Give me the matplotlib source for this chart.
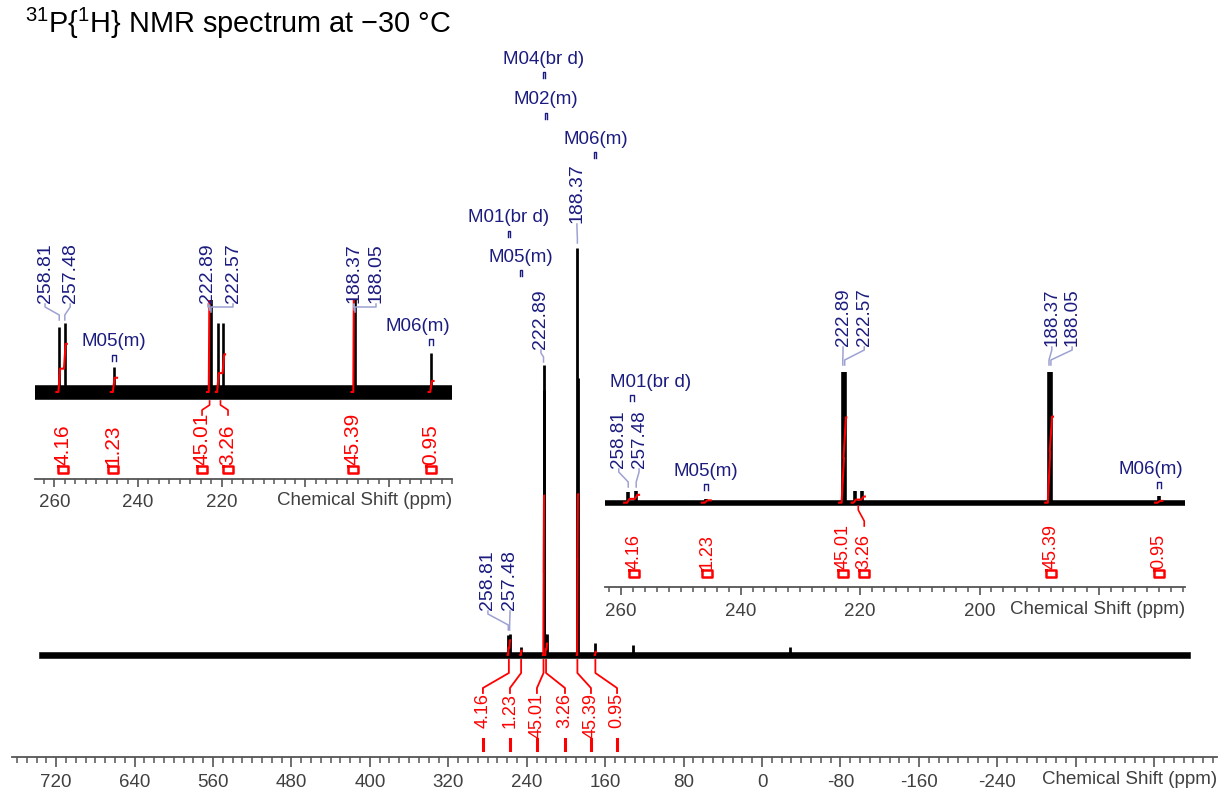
import numpy as np
import matplotlib.pyplot as plt
import matplotlib.transforms as mtransforms
from matplotlib.ticker import MultipleLocator, FuncFormatter

plt.rcParams['font.family'] = ['Liberation Sans', 'DejaVu Sans']
plt.rcParams['mathtext.fontset'] = 'custom'
plt.rcParams['mathtext.rm'] = 'Liberation Sans'
plt.rcParams['mathtext.default'] = 'regular'
plt.rcParams['axes.unicode_minus'] = False

# ---- values (height: 188.37 peak = 100) ----
peak_ppm = [258.81, 257.48, 245.8, 222.89, 222.57, 220.9, 219.6, 188.37, 188.05, 170.0, 131.6, -28.6]
peak_height = [4.9, 5.2, 1.9, 71.3, 65.0, 5.2, 5.2, 100.0, 68.0, 2.9, 2.5, 2.0]
spectrum_start, spectrum_end = 737.8, -436.7

int_from = [259.5, 246.5, 223.5, 221.4, 189.0, 170.6]
int_to = [257.0, 245.0, 222.3, 219.2, 187.7, 169.4]
int_value = [4.16, 1.23, 45.01, 3.26, 45.39, 0.95]
int_scale = 0.87

mult_names = ['M01(br d)', 'M05(m)', 'M04(br d)', 'M02(m)', 'M06(m)']
mult_ppm = [258.15, 245.8, 222.73, 220.25, 170.0]

main_tick_labels = [720, 640, 560, 480, 400, 320, 240, 160, 80, 0, -80, -160, -240]
left_tick_labels = [260, 240, 220]
right_tick_labels = [260, 240, 220, 200]

W, H = 1224, 789
NAVY = '#1c1c80'
LEAD = '#9ea2d2'
RED = '#ff0000'
GREY = '#404040'


def fy(p):
    return 1 - p / H


def rect(x0, x1, ytop, ybot):
    return [x0 / W, 1 - ybot / H, (x1 - x0) / W, (ybot - ytop) / H]


def blend(ax):
    return mtransforms.blended_transform_factory(ax.transData, ax.figure.transFigure)


def ppm_per_px(ax):
    x0, x1 = ax.get_xlim()
    return abs(x0 - x1) / (ax.get_position().width * W)


def setup_axis(ax, major, minor, shown, ticklen, pad):
    for s in ['left', 'right', 'top']:
        ax.spines[s].set_visible(False)
    ax.spines['bottom'].set_color('#555555')
    ax.spines['bottom'].set_linewidth(1.3)
    ax.set_yticks([])
    ax.set_facecolor('none')
    ax.xaxis.set_major_locator(MultipleLocator(major))
    ax.xaxis.set_minor_locator(MultipleLocator(minor))
    ax.xaxis.set_major_formatter(FuncFormatter(
        lambda v, p: f'{v:.0f}' if any(abs(v - s) < 1e-6 for s in shown) else ''))
    ax.tick_params(axis='x', which='major', length=ticklen, width=1.2, color='#555555',
                   labelsize=13.5, labelcolor=GREY, pad=pad)
    ax.tick_params(axis='x', which='minor', length=ticklen * 0.6, width=1.1, color='#555555')


def draw_spectrum(ax, noise_px, peak_lw, px_per_unit):
    half = noise_px / px_per_unit
    ax.fill_between([spectrum_start, spectrum_end], -half, half, color='black', lw=0.4)
    ax.vlines(peak_ppm, 0, peak_height, color='black', lw=peak_lw)


def draw_integrals(ax, lw):
    d = 0.2
    for f, t, v in zip(int_from, int_to, int_value):
        inside = [(p, h) for p, h in zip(peak_ppm, peak_height) if t < p < f]
        inside.sort(reverse=True)
        total = sum(h for _, h in inside)
        cum = np.cumsum([h for _, h in inside]) / total * v * int_scale
        xs, ys, prev = [f], [0], 0
        for (p, _), c in zip(inside, cum):
            xs += [p + d, p - d]
            ys += [prev, c]
            prev = c
        xs.append(t)
        ys.append(prev)
        ax.plot(xs, ys, color=RED, lw=lw)


def peak_label(ax, text, peak, label_ppm, yb, ye, size):
    tr = blend(ax)
    ax.text(label_ppm, fy(yb), text, rotation=90, ha='center', va='bottom', fontsize=size,
            color=NAVY, transform=tr, clip_on=False)
    ax.plot([label_ppm, label_ppm, peak, peak], [fy(yb + 1), fy(yb + 4), fy(ye - 5), fy(ye)],
            color=LEAD, lw=1.1, transform=tr, clip_on=False)


def mult_label(ax, name, text_ppm, yc, size, half_px):
    tr = blend(ax)
    p = mult_ppm[mult_names.index(name)]
    w = half_px * ppm_per_px(ax)
    ax.text(text_ppm, fy(yc), name, ha='center', va='center', fontsize=size, color=NAVY,
            transform=tr, clip_on=False)
    ym = yc + 13
    ax.plot([p + w, p + w, p - w, p - w], [fy(ym + 6), fy(ym), fy(ym), fy(ym + 6)],
            color=NAVY, lw=1.0, transform=tr, clip_on=False)


def inset_integral_labels(ax, label_ppm, y_base, y_text_bottom, text_px, size):
    tr = blend(ax)
    k = ppm_per_px(ax)
    for f, t, v, lp in zip(int_from, int_to, int_value, label_ppm):
        c = (f + t) / 2
        ax.text(lp, fy(y_text_bottom), f'{v:.2f}', rotation=90, ha='center', va='bottom',
                fontsize=size, color=RED, transform=tr, clip_on=False)
        w = 5 * k
        yb = y_text_bottom + 1
        ax.plot([lp + w, lp - w, lp - w, lp + w, lp + w], [fy(yb), fy(yb), fy(yb + 7), fy(yb + 7), fy(yb)],
                color=RED, lw=1.8, transform=tr, clip_on=False)
        if abs(c - lp) / k > 3:
            top = y_text_bottom - text_px
            ax.plot([c, c, lp, lp], [fy(y_base), fy(y_base + 4), fy(top - 5), fy(top)],
                    color=RED, lw=1.2, transform=tr, clip_on=False)


fig = plt.figure(figsize=(W / 100, H / 100), dpi=100)

# ---------------- main spectrum ----------------
main_px_unit = 4.07
ax = fig.add_axes(rect(12, 1217, 40, 757))
ax.set_xlim(765, -464)
ax.set_ylim((655 - 757) / main_px_unit, (655 - 40) / main_px_unit)
setup_axis(ax, 80, 10, main_tick_labels, 7, 5)
draw_spectrum(ax, 3.0, 2.0, main_px_unit)
draw_integrals(ax, 1.5)

main_peak_lab = {258.81: (279.6, 610, 630), 257.48: (257.1, 610, 630),
                 222.89: (225.5, 349, 362), 188.37: (188.8, 223, 243)}
for p, (lp, yb, ye) in main_peak_lab.items():
    peak_label(ax, f'{p:.2f}', p, lp, yb, ye, 14)

main_mult_y = {'M04(br d)': 59, 'M02(m)': 100, 'M06(m)': 139, 'M01(br d)': 218, 'M05(m)': 257}
for name, yc in main_mult_y.items():
    mult_label(ax, name, mult_ppm[mult_names.index(name)], yc, 13.5, 1.0)

main_int_ppm = [284.7, 257.1, 229.6, 201.0, 174.5, 147.9]
tr = blend(ax)
for f, t, v, lp in zip(int_from, int_to, int_value, main_int_ppm):
    c = (f + t) / 2
    ax.plot([c, c, lp, lp], [fy(660), fy(673), fy(688), fy(693)], color=RED, lw=1.3,
            transform=tr, clip_on=False)
    ax.text(lp, fy(693), f'{v:.2f}', rotation=90, ha='center', va='top', fontsize=13,
            color=RED, transform=tr, clip_on=False)
    ax.plot([lp, lp], [fy(739), fy(750)], color=RED, lw=2.2, transform=tr, clip_on=False)

fig.text(1217 / W, fy(780), 'Chemical Shift (ppm)', ha='right', va='center', fontsize=13.5, color=GREY)

# ---------------- left inset ----------------
left_px_unit = 13.3
axl = fig.add_axes(rect(35, 452, 300, 479))
axl.set_xlim(264.6, 165.0)
axl.set_ylim((392 - 479) / left_px_unit, (392 - 300) / left_px_unit)
setup_axis(axl, 20, 2.5, left_tick_labels, 6, 5)
draw_spectrum(axl, 7.0, 1.9, left_px_unit)
draw_integrals(axl, 1.5)

left_peak_lab = {258.81: (262.2, 303, 320), 257.48: (256.2, 303, 320),
                 222.89: (223.3, 303, 310), 222.57: (217.3, 303, 312),
                 188.37: (188.4, 303, 310), 188.05: (183.1, 303, 312)}
for p, (lp, yb, ye) in left_peak_lab.items():
    peak_label(axl, f'{p:.2f}', p, lp, yb, ye, 14)
mult_label(axl, 'M05(m)', 245.8, 342, 13.5, 2.0)
mult_label(axl, 'M06(m)', 173.1, 326, 13.5, 2.0)
inset_integral_labels(axl, [257.9, 246.0, 224.7, 218.5, 188.6, 170.0], 401, 465, 50, 15)
fig.text(452 / W, fy(500), 'Chemical Shift (ppm)', ha='right', va='center', fontsize=13.5, color=GREY)

# ---------------- right inset ----------------
right_px_unit = 2.18
axr = fig.add_axes(rect(605, 1185, 372, 587))
axr.set_xlim(262.7, 165.6)
axr.set_ylim((502.7 - 587) / right_px_unit, (502.7 - 372) / right_px_unit)
setup_axis(axr, 20, 2, right_tick_labels, 6, 5.5)
draw_spectrum(axr, 2.5, 2.6, right_px_unit)
draw_integrals(axr, 1.5)

right_peak_lab = {258.81: (260.4, 468, 487), 257.48: (257.0, 468, 487),
                  222.89: (222.85, 346, 365), 222.57: (219.3, 346, 365),
                  188.37: (187.9, 346, 365), 188.05: (184.5, 346, 365)}
for p, (lp, yb, ye) in right_peak_lab.items():
    peak_label(axr, f'{p:.2f}', p, lp, yb, ye, 13.5)
mult_label(axr, 'M01(br d)', 255.0, 382, 13.5, 2.0)
mult_label(axr, 'M05(m)', 245.8, 471, 13.5, 2.0)
mult_label(axr, 'M06(m)', 171.3, 469, 13.5, 2.0)
inset_integral_labels(axr, [257.8, 245.6, 222.85, 219.3, 188.0, 170.0], 506, 569, 43, 13)
fig.text(1185 / W, fy(610), 'Chemical Shift (ppm)', ha='right', va='center', fontsize=13.5, color=GREY)

# ---------------- title ----------------
fig.text(25 / W, fy(33), '$^{31}$P{$^{1}$H} NMR spectrum at \u221230 \u00b0C', ha='left',
         va='baseline', fontsize=20.8, color='black')

fig.savefig('out.png', dpi=100)
